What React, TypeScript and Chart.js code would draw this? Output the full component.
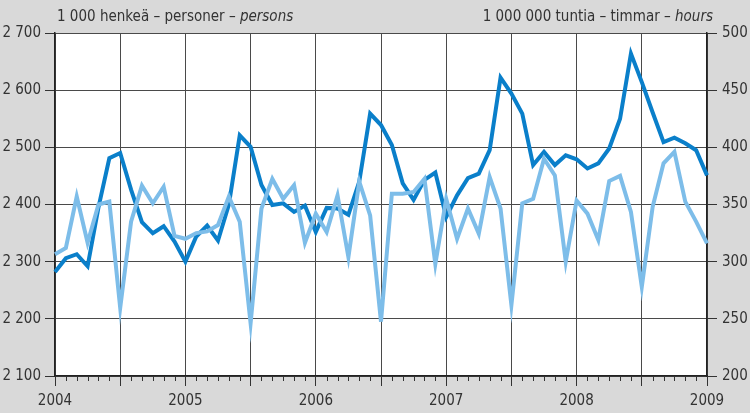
import React, { useEffect, useRef } from "react";
import { Chart, registerables } from "chart.js";

Chart.register(...registerables);

const months: string[] = [];
for (let y = 2004; y <= 2009; y++) {
  for (let m = 1; m <= 12; m++) {
    if (y === 2009 && m > 1) break;
    months.push(`${y}-${String(m).padStart(2, "0")}`);
  }
}

// Employed persons, 1 000 (left axis)
const persons = [
  2282, 2306, 2313, 2292, 2395, 2481, 2490, 2426, 2369, 2350, 2362, 2335,
  2300, 2344, 2363, 2337, 2400, 2521, 2501, 2434, 2399, 2402, 2387, 2398,
  2352, 2394, 2393, 2382, 2440, 2559, 2539, 2504, 2437, 2408, 2443, 2456,
  2378, 2416, 2446, 2454, 2495, 2622, 2594, 2559, 2469, 2492, 2469, 2486,
  2479, 2463, 2472, 2498, 2550, 2664, 2614, 2561, 2509, 2517, 2507, 2495,
  2451,
];

// Hours worked, 1 000 000 (right axis)
const hours = [
  306.5, 312, 357, 316.5, 350, 352.5, 259.5, 335, 366.5, 351, 365.5, 322.5,
  320, 325, 326.5, 332, 357, 335, 246, 346.5, 372.5, 355, 367, 316.5,
  342, 326, 358, 304, 370, 340.5, 247.5, 359.5, 359.5, 361, 372.5, 298,
  355, 320, 346.5, 324.5, 374, 346.5, 262, 351, 355, 390, 375.5, 300,
  353.5, 342, 319, 370.5, 375, 343.5, 278, 348, 386, 396, 352.5, 335,
  316,
];

const yearLabels = ["2004", "2005", "2006", "2007", "2008", "2009"];
const leftTicks = [2100, 2200, 2300, 2400, 2500, 2600, 2700];
const rightTicks = [200, 250, 300, 350, 400, 450, 500];

const FONT = "'Liberation Sans Narrow', 'DejaVu Sans Condensed', 'Roboto', sans-serif";

const fmt = (v: number) => {
  const s = String(v);
  return s.length > 3 ? s.slice(0, s.length - 3) + " " + s.slice(-3) : s;
};

const plotBg = {
  id: "plotBg",
  beforeDraw(chart: any) {
    const { ctx, chartArea } = chart;
    ctx.save();
    ctx.fillStyle = "#ffffff";
    ctx.fillRect(chartArea.left, chartArea.top, chartArea.right - chartArea.left, chartArea.bottom - chartArea.top);
    ctx.restore();
  },
};

const minorTicks = {
  id: "minorTicks",
  afterDraw(chart: any) {
    const { ctx, chartArea } = chart;
    const xs = chart.scales.x;
    ctx.save();
    ctx.strokeStyle = "#333";
    ctx.lineWidth = 1;
    ctx.beginPath();
    months.forEach((_m, i) => {
      if (i % 6 === 0) return;
      const px = Math.round(xs.getPixelForValue(i)) + 0.5;
      ctx.moveTo(px, chartArea.bottom);
      ctx.lineTo(px, chartArea.bottom + 5);
    });
    ctx.stroke();
    ctx.restore();
  },
};

export default function App() {
  const ref = useRef<HTMLCanvasElement>(null);
  useEffect(() => {
    document.body.style.margin = "0";
    const chart = new Chart(ref.current!, {
      type: "line",
      data: {
        labels: months,
        datasets: [
          {
            label: "hours",
            data: hours,
            yAxisID: "y2",
            borderColor: "#7dbde9",
            borderWidth: 4,
            pointRadius: 0,
            tension: 0,
          },
          {
            label: "persons",
            data: persons,
            yAxisID: "y",
            borderColor: "#0a7fca",
            borderWidth: 4,
            pointRadius: 0,
            tension: 0,
          },
        ],
      },
      options: {
        animation: false,
        responsive: false,
        layout: { padding: { top: 33, left: 0, right: 0, bottom: 0 } },
        plugins: { legend: { display: false }, tooltip: { enabled: false } },
        scales: {
          x: {
            type: "category",
            offset: false,
            grid: {
              color: (c: any) => (c.index % 6 === 0 ? "#4a4a4a" : "rgba(0,0,0,0)"),
              tickColor: (c: any) => (c.index % 6 === 0 ? "#333" : "rgba(0,0,0,0)"),
              tickLength: 10,
              lineWidth: 1,
            },
            border: { color: "#222", width: 1.5 },
            ticks: {
              autoSkip: false,
              maxRotation: 0,
              padding: 6,
              color: "#333",
              font: { family: FONT, size: 15 },
              callback: (_v: any, i: number) => (i % 12 === 0 ? yearLabels[i / 12] : ""),
            },
            afterFit: (s: any) => {
              s.height = 37;
            },
          },
          y: {
            position: "left",
            min: leftTicks[0],
            max: leftTicks[leftTicks.length - 1],
            afterBuildTicks: (s: any) => {
              s.ticks = leftTicks.map((v) => ({ value: v }));
            },
            grid: { color: "#4a4a4a", tickColor: "#333", tickLength: 10, lineWidth: 1 },
            border: { color: "#222", width: 1.5 },
            ticks: {
              padding: 4,
              color: "#333",
              font: { family: FONT, size: 15 },
              callback: (v: any) => fmt(Number(v)),
            },
            afterFit: (s: any) => {
              s.width = 55;
            },
          },
          y2: {
            position: "right",
            min: rightTicks[0],
            max: rightTicks[rightTicks.length - 1],
            afterBuildTicks: (s: any) => {
              s.ticks = rightTicks.map((v) => ({ value: v }));
            },
            grid: { drawOnChartArea: false, tickColor: "#333", tickLength: 10 },
            border: { color: "#222", width: 1.5 },
            ticks: {
              padding: 5,
              color: "#333",
              font: { family: FONT, size: 15 },
            },
            afterFit: (s: any) => {
              s.width = 43;
            },
          },
        },
      },
      plugins: [plotBg, minorTicks],
    } as any);
    return () => chart.destroy();
  }, []);

  const titleStyle: React.CSSProperties = {
    position: "absolute",
    top: 7,
    fontFamily: FONT,
    fontSize: 15,
    color: "#333",
    whiteSpace: "nowrap",
  };

  return (
    <div style={{ position: "relative", width: 750, height: 413, background: "#d9d9d9", overflow: "hidden" }}>
      <canvas ref={ref} width={750} height={413} style={{ position: "absolute", left: 0, top: 0 }} />
      <div style={{ ...titleStyle, left: 57 }}>
        1 000 henkeä – personer – <i>persons</i>
      </div>
      <div style={{ ...titleStyle, right: 37 }}>
        1 000 000 tuntia – timmar – <i>hours</i>
      </div>
    </div>
  );
}
